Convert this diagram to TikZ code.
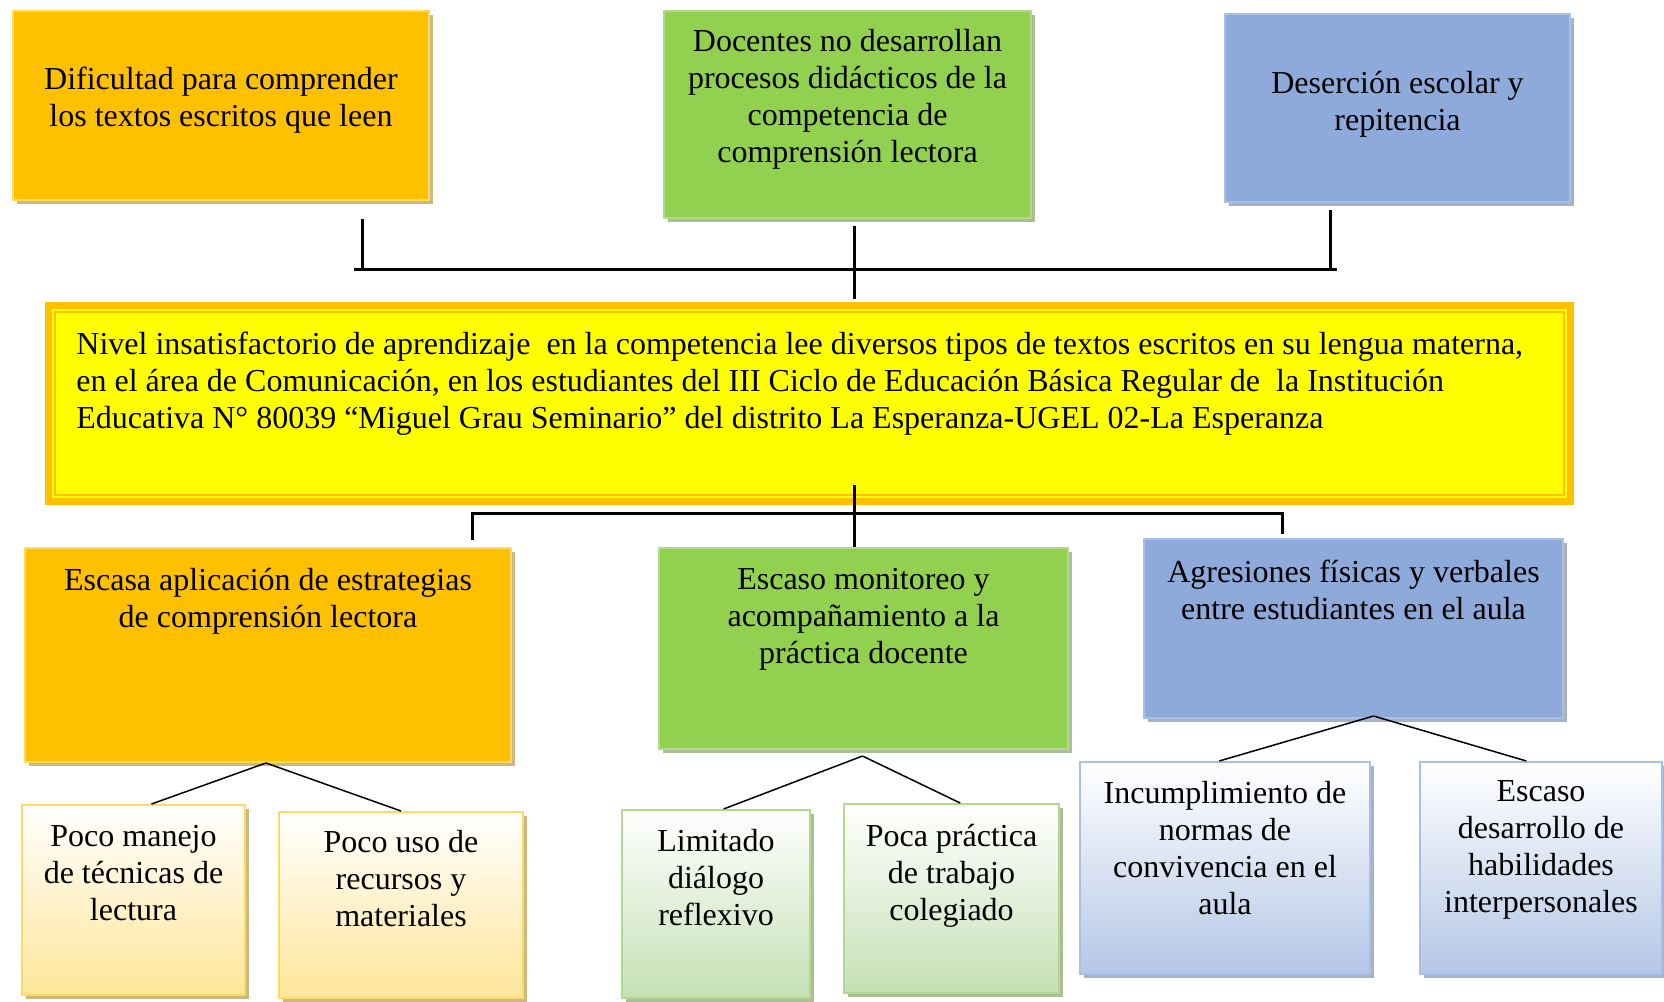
\documentclass[tikz,border=0pt]{standalone}
\usepackage{fontspec}
\setmainfont{Liberation Serif}
\usetikzlibrary{calc,fit,shadows}
\definecolor{naranja}{HTML}{FFC000}
\definecolor{verde}{HTML}{92D050}
\definecolor{azul}{HTML}{8EAADB}
\definecolor{amarillo}{HTML}{FFFF00}
\definecolor{naranjaborde}{HTML}{FFD966}
\definecolor{verdeborde}{HTML}{B3D98F}
\definecolor{azulborde}{HTML}{A9BFE6}
\definecolor{naranjaclaro}{HTML}{FFE699}
\definecolor{verdeclaro}{HTML}{C5E0B4}
\definecolor{azulclaro}{HTML}{B4C7E7}
\newcommand{\fuente}{\fontsize{16}{18.5}\selectfont}

\begin{document}
\begin{tikzpicture}[x=0.5pt,y=-0.5pt]
    \tikzset{caja/.style={draw=#1borde, line width=1pt, fill=#1, inner sep=0pt,
               drop shadow={shadow xshift=2pt,shadow yshift=-2pt,fill=#1!60!black,opacity=.5}},
             cajita/.style={draw=#1borde, line width=1pt, top color=white, bottom color=#1claro, inner sep=0pt,
               drop shadow={shadow xshift=2pt,shadow yshift=-2pt,fill=#1!60!black,opacity=.5}},
             txt/.style={anchor=north, align=center, inner sep=0pt, yshift=-3.3pt, font=\fuente, execute at begin node=\strut},
             grueso/.style={line width=1.5pt},
             fino/.style={line width=0.75pt}}
\useasboundingbox (0,0) rectangle (1664,1001);

% efectos
\node[caja=naranja, fit={(13,11) (429,200)}] (ef1) {};
\node[caja=verde, fit={(664,11) (1031,218)}] (ef2) {};
\node[caja=azul, fit={(1225,14) (1570,202)}] (ef3) {};
\node[txt] (tef1) at (221,60) {Dificultad para comprender\\los textos escritos que leen};
\node[txt] (tef2) at (847.5,22) {Docentes no desarrollan\\procesos didácticos de la\\competencia de\\comprensión lectora};
\node[txt] (tef3) at (1397.5,64) {Deserción escolar y\\repitencia};

% problema
\node[fit={(48.5,305.5) (1570.5,501.5)}, fill=amarillo, draw=naranja, line width=3.5pt, inner sep=0pt] (prob) {};
\draw[naranja, line width=1pt] ($(prob.north west)+(10,10)$) rectangle ($(prob.south east)+(-10,-10)$);
\node[txt, anchor=north west, align=left] (tprob) at (76,325) {Nivel insatisfactorio de aprendizaje~ en la competencia lee diversos tipos de textos escritos en su lengua materna,\\en el área de Comunicación, en los estudiantes del III Ciclo de Educación Básica Regular de~ la Institución\\Educativa N° 80039 “Miguel Grau Seminario” del distrito La Esperanza-UGEL 02-La Esperanza};

% causas
\node[caja=naranja, fit={(25,548) (511,762)}] (ca1) {};
\node[caja=verde, fit={(659,548) (1068,749)}] (ca2) {};
\node[caja=azul, fit={(1144,539) (1563,718)}] (ca3) {};
\node[txt] (tca1) at (268,561) {Escasa aplicación de estrategias\\de comprensión lectora};
\node[txt] (tca2) at (863.5,561) {Escaso monitoreo y\\acompañamiento a la\\práctica docente};
\node[txt] (tca3) at (1353.5,553) {Agresiones físicas y verbales\\entre estudiantes en el aula};

% subcausas
\node[cajita=naranja, fit={(22,805) (245,995)}] (sc1) {};
\node[cajita=naranja, fit={(279,812) (523,998)}] (sc2) {};
\node[cajita=verde, fit={(622,810) (810,998)}] (sc3) {};
\node[cajita=verde, fit={(844,804) (1059,993)}] (sc4) {};
\node[cajita=azul, fit={(1080,762) (1370,974)}] (sc5) {};
\node[cajita=azul, fit={(1420,762) (1662,974)}] (sc6) {};
\node[txt] (tsc1) at (133.5,818) {Poco manejo\\de técnicas de\\lectura};
\node[txt] (tsc2) at (401,823.5) {Poco uso de\\recursos y\\materiales};
\node[txt] (tsc3) at (716,822.5) {Limitado\\diálogo\\reflexivo};
\node[txt] (tsc4) at (951.5,817) {Poca práctica\\de trabajo\\colegiado};
\node[txt] (tsc5) at (1225,774) {Incumplimiento de\\normas de\\convivencia en el\\aula};
\node[txt] (tsc6) at (1541,774) {Escaso\\desarrollo de\\habilidades\\interpersonales};

% lineas de arriba
\coordinate (s1) at (362,219);
\coordinate (s2) at (854,226);
\coordinate (s3) at (1330,210);
\coordinate (h1) at (354,269);
\coordinate (h2) at (1337,269);
\draw[grueso] (h1) -- (h2);
\draw[grueso] (s1) -- (s1 |- h1);
\draw[grueso] (s3) -- (s3 |- h1);
\draw[grueso] (s2) -- ($(s2 |- prob.north)+(0,-3)$);

% lineas de abajo
\coordinate (b0) at (854,485);
\coordinate (b1) at (472,513);
\coordinate (b2) at (1282,513);
\draw[grueso] (b0) -- (b0 |- ca2.north);
\draw[grueso] (b1) ++(0,27) -- (b1) -- (b2) -- ++(0,21);

\draw[fino] ($(ca1.south)+(-2,0)$) -- ($(sc1.north west)!.58!(sc1.north east)$);
\draw[fino] ($(ca1.south)+(-2,0)$) -- (sc2.north);
\draw[fino] ($(ca2.south)+(-1,6)$) -- ($(sc3.north west)!.54!(sc3.north east)$);
\draw[fino] ($(ca2.south)+(-1,6)$) -- ($(sc4.north west)!.54!(sc4.north east)$);
\draw[fino] ($(ca3.south)+(20,-3)$) -- ($(sc5.north west)!.48!(sc5.north east)$);
\draw[fino] ($(ca3.south)+(20,-3)$) -- ($(sc6.north west)!.44!(sc6.north east)$);
% \draw[fino] (ca3.south) -- (sc6.north);

\end{tikzpicture}
\end{document}
